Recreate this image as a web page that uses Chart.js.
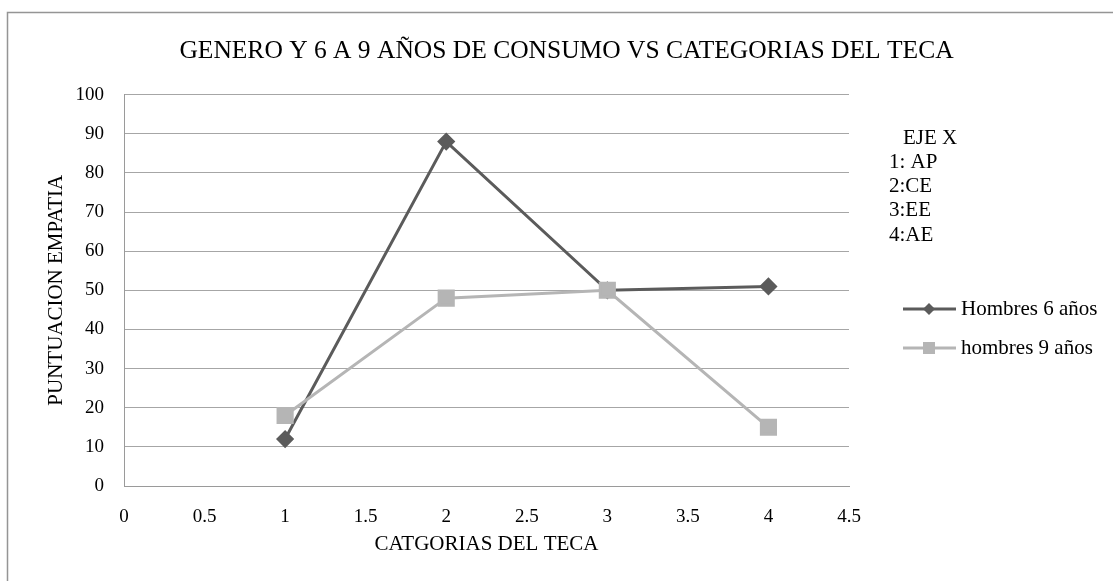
<!DOCTYPE html>
<html>
<head>
<meta charset="utf-8">
<script src="https://cdn.jsdelivr.net/npm/chart.js"></script>
<style>
  body { margin: 0; background: #fff; }
  #box { width: 1113px; height: 581px; }
</style>
</head>
<body>
<div id="box"><canvas id="line-chart" width="1113" height="581"></canvas></div>
<script>
// Data
const categories = [1, 2, 3, 4];
const hombres6 = [12, 88, 50, 51];
const hombres9 = [18, 48, 50, 15];
const xTickLabels = ["0", "0.5", "1", "1.5", "2", "2.5", "3", "3.5", "4", "4.5"];
const yTickLabels = ["0", "10", "20", "30", "40", "50", "60", "70", "80", "90", "100"];
const seriesNames = ["Hombres 6 años", "hombres 9 años"];
const ejeX = ["EJE X", "1: AP", "2:CE", "3:EE", "4:AE"];

const serif = "'Liberation Serif', 'Times New Roman', serif";

// frame round the chart + the "EJE X" note + legend on the right
const extras = {
  id: "extras",
  beforeDraw(chart) {
    const ctx = chart.ctx;
    ctx.save();
    ctx.strokeStyle = "#959595";
    ctx.lineWidth = 1.5;
    ctx.strokeRect(7.5, 12.5, 1200, 700);
    ctx.restore();
  },
  afterDraw(chart) {
    const ctx = chart.ctx;
    ctx.save();
    ctx.fillStyle = "#000";
    ctx.font = "21px " + serif;
    ctx.textBaseline = "middle";
    ctx.textAlign = "left";
    ejeX.forEach((t, i) => {
      ctx.fillText(t, i === 0 ? 903 : 889, 138 + i * 24.3);
    });

    // legend
    const rows = [309, 348];
    chart.data.datasets.forEach((ds, i) => {
      const y = rows[i];
      ctx.strokeStyle = ds.borderColor;
      ctx.lineWidth = ds.borderWidth;
      ctx.beginPath();
      ctx.moveTo(903, y);
      ctx.lineTo(956, y);
      ctx.stroke();
      ctx.fillStyle = ds.pointBackgroundColor;
      ctx.beginPath();
      if (ds.pointStyle === "rectRot") {
        ctx.moveTo(929, y - 6);
        ctx.lineTo(935, y);
        ctx.lineTo(929, y + 6);
        ctx.lineTo(923, y);
      } else {
        ctx.rect(923, y - 6, 12, 12);
      }
      ctx.fill();
      ctx.fillStyle = "#000";
      ctx.fillText(ds.label, 961, y);
    });
    ctx.restore();
  },
};

new Chart(document.getElementById("line-chart"), {
  type: "scatter",
  data: {
    datasets: [
      {
        label: seriesNames[0],
        data: categories.map((c, i) => ({ x: c, y: hombres6[i] })),
        showLine: true,
        borderColor: "#5b5b5b",
        backgroundColor: "#5b5b5b",
        pointBackgroundColor: "#5b5b5b",
        pointBorderColor: "#5b5b5b",
        borderWidth: 3,
        pointStyle: "rectRot",
        pointRadius: 7,
        pointHoverRadius: 7,
        order: 1,
      },
      {
        label: seriesNames[1],
        data: categories.map((c, i) => ({ x: c, y: hombres9[i] })),
        showLine: true,
        borderColor: "#b5b5b5",
        backgroundColor: "#b5b5b5",
        pointBackgroundColor: "#b5b5b5",
        pointBorderColor: "#b5b5b5",
        borderWidth: 3,
        pointStyle: "rect",
        pointRadius: 10,
        pointHoverRadius: 10,
        order: 0,
      },
    ],
  },
  options: {
    responsive: false,
    animation: false,
    layout: { padding: { left: 20, right: 0, top: 0, bottom: 0 } },
    plugins: {
      legend: { display: false },
      tooltip: { enabled: false },
      title: {
        display: true,
        text: "GENERO Y 6 A 9 AÑOS DE CONSUMO VS CATEGORIAS DEL TECA",
        color: "#000",
        font: { family: serif, size: 25.5, weight: "normal", lineHeight: 1.2 },
        padding: { top: 36, bottom: 28 },
      },
    },
    scales: {
      x: {
        type: "linear",
        min: 0,
        max: 4.5,
        grid: { display: false, drawTicks: false },
        border: { display: true, color: "#9a9a9a", width: 1 },
        ticks: {
          stepSize: 0.5,
          autoSkip: false,
          maxRotation: 0,
          padding: 20,
          color: "#000",
          font: { family: serif, size: 19 },
          callback: (v, i) => xTickLabels[i],
        },
        title: {
          display: true,
          text: "CATGORIAS DEL TECA",
          color: "#000",
          font: { family: serif, size: 21, lineHeight: 1.2 },
          padding: { top: 0, bottom: 24 },
        },
        afterFit: (s) => { s.height = 95; },
      },
      y: {
        min: 0,
        max: 100,
        grid: { color: "#a6a6a6", lineWidth: 1, drawTicks: false },
        border: { display: true, color: "#9a9a9a", width: 1 },
        ticks: {
          stepSize: 10,
          padding: 20,
          color: "#000",
          font: { family: serif, size: 19 },
          callback: (v, i) => yTickLabels[i],
        },
        title: {
          display: true,
          text: "PUNTUACION EMPATIA",
          color: "#000",
          font: { family: serif, size: 21, lineHeight: 1.2 },
          padding: { top: 24, bottom: 0 },
        },
        afterFit: (s) => { s.width = 104; },
      },
      side: {
        type: "linear",
        position: "right",
        display: true,
        grid: { display: false, drawTicks: false },
        border: { display: false },
        ticks: { display: false },
        afterFit: (s) => { s.width = 264; },
      },
    },
  },
  plugins: [extras],
});
</script>
</body>
</html>
